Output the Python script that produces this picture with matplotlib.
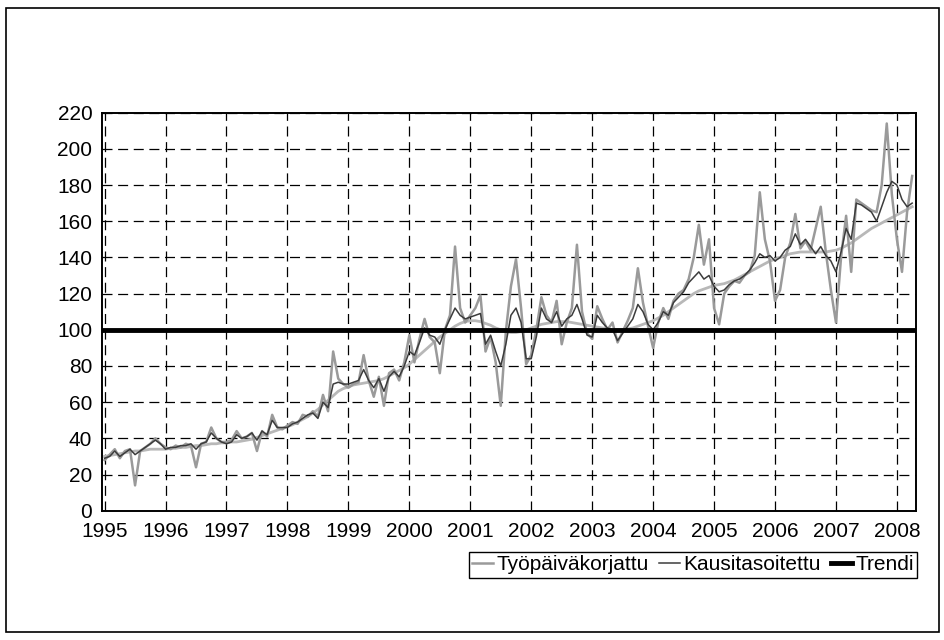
#!/usr/bin/env python3

import matplotlib
matplotlib.use('Agg')

import matplotlib.pyplot as plt
import matplotlib.ticker as mticker
from matplotlib.patches import Rectangle

YEARS = ['1995', '1996', '1997', '1998', '1999', '2000', '2001',
         '2002', '2003', '2004', '2005', '2006', '2007', '2008']

# monthly values, Jan 1995 .. Apr 2008
TYOPAIVA = [
    28, 31, 34, 29, 33, 34, 14, 33, 35, 37, 40, 37,
    35, 34, 36, 35, 37, 36, 24, 37, 38, 46, 40, 38,
    38, 39, 44, 40, 41, 43, 33, 44, 41, 53, 46, 45,
    47, 49, 48, 53, 52, 55, 52, 64, 55, 88, 73, 70,
    68, 70, 71, 86, 72, 63, 74, 58, 76, 78, 72, 82,
    97, 82, 95, 106, 96, 93, 76, 100, 108, 146, 112, 104,
    108, 112, 119, 88, 96, 82, 58, 99, 124, 139, 112, 81,
    86, 100, 118, 108, 104, 116, 92, 104, 112, 147, 110, 98,
    95, 113, 106, 100, 104, 93, 99, 105, 112, 134, 115, 102,
    90, 104, 112, 106, 116, 120, 122, 128, 140, 158, 136, 150,
    112, 103, 120, 124, 127, 126, 130, 132, 141, 176, 150, 138,
    116, 122, 140, 148, 164, 145, 149, 144, 156, 168, 143, 122,
    104, 140, 163, 132, 172, 170, 168, 166, 165, 180, 214, 175,
    150, 132, 165, 185,
]

KAUSI = [
    29, 30, 33, 30, 32, 34, 31, 33, 35, 37, 39, 37,
    34, 35, 35, 36, 36, 37, 34, 37, 38, 43, 40, 38,
    37, 38, 42, 40, 41, 43, 39, 44, 42, 50, 46, 46,
    46, 48, 49, 51, 53, 54, 51, 60, 57, 70, 71, 70,
    70, 71, 72, 78, 72, 68, 73, 66, 74, 77, 74, 80,
    88, 86, 93, 101, 97, 96, 92, 100, 106, 112, 108, 106,
    107, 108, 109, 92, 97, 88, 80, 92, 108, 112, 104, 84,
    84, 96, 112, 106, 104, 110, 102, 106, 108, 114, 106, 97,
    96, 108, 104, 101, 100, 94, 98, 102, 106, 114, 110, 103,
    100, 104, 110, 108, 115, 118, 121, 126, 129, 132, 128, 130,
    124, 121, 122, 125, 127, 128, 130, 133, 137, 142, 140, 141,
    138, 140, 144, 146, 153, 147, 150, 146, 142, 146, 141, 138,
    132, 143, 156, 150, 170, 169, 167, 165, 160, 168, 176, 182,
    180, 172, 168, 170,
]

TRENDI = [
    30, 30.5, 31, 31.5, 32, 32.5, 33, 33, 33.5, 34, 34, 34,
    34, 34.5, 34.5, 35, 35, 35.5, 36, 36, 36.5, 37, 37, 37.5,
    37.5, 38, 38, 38.5, 39, 39.5, 40.5, 41.5, 42.5, 43.5, 44.5, 45.5,
    46.5, 47.5, 49, 50.5, 52, 54, 56, 58.5, 61, 63.5, 66, 67.5,
    68.5, 69.5, 70, 70.5, 71, 71.5, 72, 73, 74.5, 76, 77.5, 79,
    81, 83.5, 86, 88.5, 91, 93.5, 96, 98, 100, 102, 103.5, 104.5,
    105, 105, 104.5, 103.5, 102.5, 101, 100, 99, 98.5, 98.5, 99, 100,
    101, 102, 103, 103.5, 104, 104.5, 104.5, 104.5, 104, 103.5, 103, 102.5,
    102, 101.5, 101, 100.5, 100, 100, 100, 100.5, 101, 102, 103, 104,
    105, 106.5, 108, 110, 112, 114, 116, 118, 120, 121.5, 122.5, 123.5,
    124.5, 125, 125.5, 126.5, 127.5, 129, 130.5, 132, 133.5, 135, 136.5, 138,
    139, 140, 141, 142, 142.5, 143, 143, 143, 143, 143, 143, 143.5,
    144, 145, 146.5, 148, 150, 152, 154, 156, 157.5, 159, 160.5, 162,
    163.5, 165, 166.5, 168,
]

BASE = 100


def main():

    plt.rcParams['font.family'] = ['Liberation Sans', 'DejaVu Sans']

    fig = plt.figure(figsize=(9.45, 6.4), dpi=100)
    ax = fig.add_axes([0.108, 0.202, 0.861, 0.622])

    months = list(range(len(TYOPAIVA)))

    ax.plot(months, TRENDI, color='#b8b8b8', lw=2.0, zorder=3)
    l_w, = ax.plot(months, TYOPAIVA, color='#9a9a9a', lw=1.8, zorder=4,
                   label='Työpäiväkorjattu')
    l_k, = ax.plot(months, KAUSI, color='#3c3c3c', lw=1.1, zorder=5,
                   label='Kausitasoitettu')
    l_t = ax.axhline(BASE, color='black', lw=3.5, zorder=6, label='Trendi')

    ax.set_xlim(-0.5, len(months) - 0.3)
    ax.set_ylim(0, 220)
    ax.yaxis.set_major_locator(mticker.MultipleLocator(20))
    ax.set_xticks([12 * i for i in range(len(YEARS))])
    ax.set_xticklabels(YEARS)
    ax.tick_params(length=0, labelsize=15)
    ax.tick_params(axis='x', pad=8)
    ax.tick_params(axis='y', pad=7)

    # dashed Excel-style gridlines
    ax.grid(True, color='black', lw=0.9, linestyle=(0, (8, 4.5)))
    ax.set_axisbelow(True)
    for side in ax.spines.values():
        side.set_color('black')
        side.set_linewidth(1.4)

    leg = fig.legend(handles=[l_w, l_k, l_t], loc='upper right',
                     bbox_to_anchor=(0.970, 0.137), ncol=3, fontsize=15,
                     handlelength=1.0, handletextpad=0.15,
                     columnspacing=0.5, borderpad=0.15, borderaxespad=0,
                     fancybox=False, framealpha=1, edgecolor='black')
    leg.get_frame().set_linewidth(1.0)

    # outer chart border
    fig.patches.append(Rectangle((0.006, 0.012), 0.988, 0.975,
                                 transform=fig.transFigure, fill=False,
                                 edgecolor='black', lw=1.2))

    fig.savefig('out.png', dpi=100)


if __name__ == '__main__':
    main()
